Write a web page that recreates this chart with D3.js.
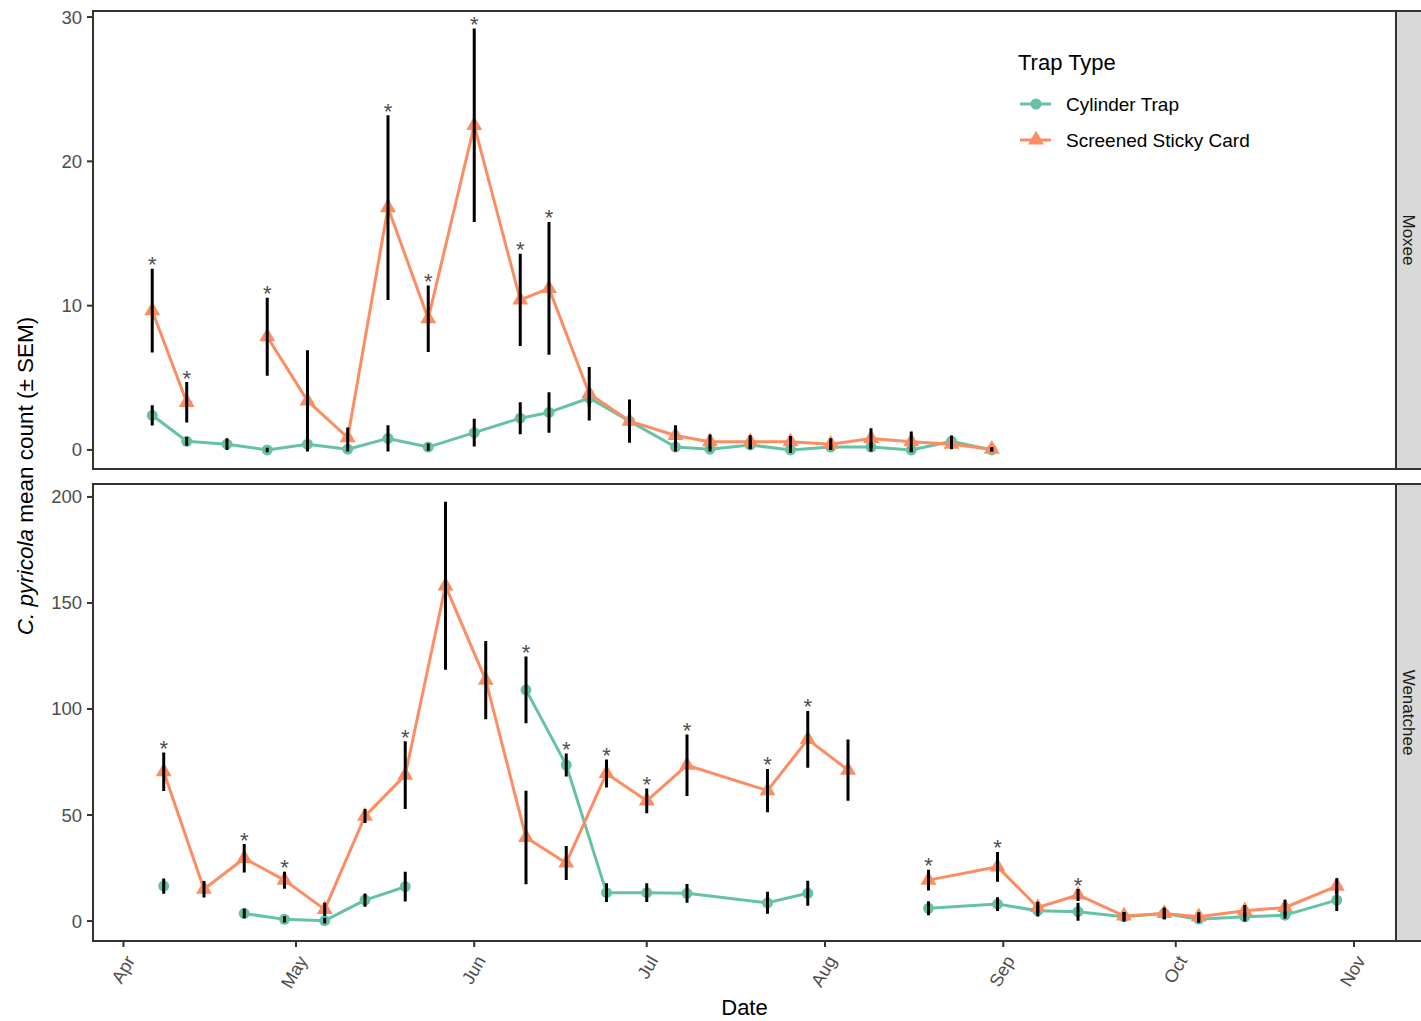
<!DOCTYPE html>
<html>
<head>
<meta charset="utf-8">
<script src="https://cdn.jsdelivr.net/npm/d3@7"></script>
<style>
body { margin: 0; background: #fff; }
text { font-family: "Liberation Sans", Arial, sans-serif; }
</style>
</head>
<body>
<svg id="chart" width="1421" height="1021"></svg>
<script>
// Moxee site
var moxeeDates = ["2017-04-06", "2017-04-12", "2017-04-19", "2017-04-26", "2017-05-03", "2017-05-10",
    "2017-05-17", "2017-05-24", "2017-06-01", "2017-06-09", "2017-06-14", "2017-06-21", "2017-06-28",
    "2017-07-06", "2017-07-12", "2017-07-19", "2017-07-26", "2017-08-02", "2017-08-09", "2017-08-16",
    "2017-08-23", "2017-08-30"]
var moxeeCyl = [2.4, 0.6, 0.4, 0.0, 0.4, 0.05, 0.8, 0.2, 1.2, 2.2, 2.6, 3.6, 2.0, 0.2, 0.05, 0.35, 0.0, 0.2, 0.2, 0.0, 0.6, 0.0]
var moxeeCylSem = [0.6, 0.2, 0.3, 0.05, 0.3, 0.05, 0.8, 0.15, 0.85, 1.0, 1.3, 0.5, 0.6, 0.2, 0.05, 0.2, 0.1, 0.1, 0.2, 0.05, 0.3, 0.0]
var moxeeSticky = [9.65, 3.3, null, 7.85, 3.4, 0.85, 16.8, 9.1, 22.5, 10.4, 11.2, 3.9, 2.0, 1.0, 0.57, 0.57, 0.57, 0.4, 0.8, 0.57, 0.4, 0.05]
var moxeeStickySem = [2.8, 1.3, null, 2.6, 3.4, 0.6, 6.3, 2.2, 6.6, 3.1, 4.5, 1.75, 1.4, 0.6, 0.4, 0.35, 0.3, 0.3, 0.6, 0.6, 0.25, 0.05]
var moxeeSig = [1, 1, 0, 1, 0, 0, 1, 1, 1, 1, 1, 0, 0, 0, 0, 0, 0, 0, 0, 0, 0, 0]

// Wenatchee site
var wenDates = ["2017-04-08", "2017-04-15", "2017-04-22", "2017-04-29", "2017-05-06", "2017-05-13",
    "2017-05-20", "2017-05-27", "2017-06-03", "2017-06-10", "2017-06-17", "2017-06-24", "2017-07-01",
    "2017-07-08", "2017-07-22", "2017-07-29", "2017-08-05", "2017-08-12", "2017-08-19", "2017-08-31",
    "2017-09-07", "2017-09-14", "2017-09-22", "2017-09-29", "2017-10-05", "2017-10-13", "2017-10-20",
    "2017-10-29"]
var wenCyl = [16.5, null, 3.6, 0.8, 0.2, 9.9, 16.2, null, null, 109, 73.6, 13.4, 13.4, 13.1, 8.6, 13.1, null, null,
    6.0, 8.0, 4.9, 4.4, 2.0, 3.6, 0.9, 2.0, 2.8, 9.9]
var wenCylSem = [2.9, null, 1.6, 0.8, 0.6, 2.4, 6.3, null, null, 15.0, 4.7, 3.7, 3.7, 3.7, 4.5, 5.2, null, null,
    2.6, 2.5, 2.0, 3.5, 1.5, 2.0, 1.0, 1.5, 1.0, 4.5]
var wenSticky = [70.4, 15.0, 29.6, 19.3, 5.5, 49.5, 68.8, 158.1, 113.6, 39.4, 27.4, 69.6, 56.7, 73.5, 61.5, 85.7, 71.2, null,
    19.3, 25.6, 6.4, 12.3, 2.4, 3.6, 2.0, 4.9, 6.4, 16.5]
var wenStickySem = [8.4, 3.2, 6.0, 3.3, 2.4, 2.6, 15.3, 38.9, 17.7, 21.3, 7.3, 5.9, 5.1, 13.8, 9.5, 12.7, 13.7, null,
    4.2, 6.3, 2.0, 2.1, 1.2, 2.0, 1.5, 2.0, 3.0, 3.0]
var wenSig = [1, 0, 1, 1, 0, 0, 1, 0, 0, 1, 1, 1, 1, 1, 1, 1, 0, 0, 1, 1, 0, 1, 0, 0, 0, 0, 0, 0]

var trapTypes = ["Cylinder Trap", "Screened Sticky Card"]
var trapColors = ["#66c2a5", "#fc8d62"]
var moxeeTicks = [0, 10, 20, 30]
var wenTicks = [0, 50, 100, 150, 200]
var monthTicks = ["2017-04-01", "2017-05-01", "2017-06-01", "2017-07-01", "2017-08-01", "2017-09-01", "2017-10-01", "2017-11-01"]

var parse = d3.timeParse("%Y-%m-%d")
var svg = d3.select("#chart")

var left = 93, right = 1396, stripW = 30

// shared x scale, expanded 5% each side like ggplot
var allDates = moxeeDates.concat(wenDates).map(parse)
var ext = d3.extent(allDates)
var span = ext[1] - ext[0]
var x = d3.scaleTime()
    .domain([new Date(+ext[0] - span * 0.05), new Date(+ext[1] + span * 0.05)])
    .range([left, right])

function drawPanel(top, bottom, yDomain, ticks, dates, series, sig, label) {
    var y = d3.scaleLinear().domain(yDomain).range([bottom, top])
    var g = svg.append("g")

    // y axis ticks + labels
    ticks.forEach(function (t) {
        g.append("line").attr("x1", left - 6).attr("x2", left).attr("y1", y(t)).attr("y2", y(t))
            .attr("stroke", "#333").attr("stroke-width", 2)
        g.append("text").attr("x", left - 11).attr("y", y(t)).attr("dy", "0.35em")
            .attr("text-anchor", "end").attr("font-size", 18.5).attr("fill", "#4d4d4d").text(t)
    })

    var clip = "clip-" + label
    svg.append("clipPath").attr("id", clip).append("rect")
        .attr("x", left).attr("y", top).attr("width", right - left).attr("height", bottom - top)
    var plot = g.append("g").attr("clip-path", "url(#" + clip + ")")

    var rows = series.map(function (s, k) {
        return dates.map(function (d, i) {
            return { date: parse(d), v: s.mean[i], sem: s.sem[i], k: k }
        })
    })

    var line = d3.line()
        .defined(function (d) { return d.v != null })
        .x(function (d) { return x(d.date) })
        .y(function (d) { return y(d.v) })

    rows.forEach(function (r, k) {
        plot.append("path").datum(r).attr("d", line)
            .attr("fill", "none").attr("stroke", trapColors[k]).attr("stroke-width", 3)
            .attr("stroke-linejoin", "round")
    })

    // points
    plot.selectAll(".cyl").data(rows[0].filter(function (d) { return d.v != null }))
        .enter().append("circle")
        .attr("cx", function (d) { return x(d.date) })
        .attr("cy", function (d) { return y(d.v) })
        .attr("r", 5.5).attr("fill", trapColors[0])
    var tri = d3.symbol().type(d3.symbolTriangle).size(110)
    plot.selectAll(".stk").data(rows[1].filter(function (d) { return d.v != null }))
        .enter().append("path")
        .attr("d", tri)
        .attr("transform", function (d) { return "translate(" + x(d.date) + "," + y(d.v) + ")" })
        .attr("fill", trapColors[1])

    // error bars
    rows.forEach(function (r) {
        r.filter(function (d) { return d.v != null }).forEach(function (d) {
            var cx = x(d.date), y1 = y(d.v + d.sem), y2 = y(d.v - d.sem)
            plot.append("path")
                .attr("d", "M" + (cx - 1.5) + "," + y1 + "H" + (cx + 1.5) + "M" + cx + "," + y1 + "V" + y2 +
                    "M" + (cx - 1.5) + "," + y2 + "H" + (cx + 1.5))
                .attr("stroke", "#000").attr("stroke-width", 3).attr("fill", "none")
        })
    })

    // significance stars above the highest bar
    dates.forEach(function (d, i) {
        if (!sig[i]) return
        var hi = d3.max(series, function (s) { return s.mean[i] == null ? null : s.mean[i] + s.sem[i] })
        g.append("text").attr("x", x(parse(d))).attr("y", y(hi) + 2)
            .attr("text-anchor", "middle").attr("font-size", 22).attr("fill", "#4d4d4d").text("*")
    })

    // panel border
    g.append("rect").attr("x", left).attr("y", top).attr("width", right - left).attr("height", bottom - top)
        .attr("fill", "none").attr("stroke", "#333").attr("stroke-width", 2)

    // facet strip
    g.append("rect").attr("x", right).attr("y", top).attr("width", stripW).attr("height", bottom - top)
        .attr("fill", "#d9d9d9").attr("stroke", "#333").attr("stroke-width", 2)
    g.append("text")
        .attr("transform", "translate(" + (right + 13) + "," + ((top + bottom) / 2) + ") rotate(90)")
        .attr("text-anchor", "middle").attr("dy", "0.35em")
        .attr("font-size", 17).attr("fill", "#1a1a1a").text(label)
}

drawPanel(11, 469, [-1.32, 30.42], moxeeTicks, moxeeDates,
    [{ mean: moxeeCyl, sem: moxeeCylSem }, { mean: moxeeSticky, sem: moxeeStickySem }], moxeeSig, "Moxee")
drawPanel(484, 941, [-9.4, 206.1], wenTicks, wenDates,
    [{ mean: wenCyl, sem: wenCylSem }, { mean: wenSticky, sem: wenStickySem }], wenSig, "Wenatchee")

// x axis
var xa = svg.append("g")
monthTicks.map(parse).forEach(function (m) {
    xa.append("line").attr("x1", x(m)).attr("x2", x(m)).attr("y1", 941).attr("y2", 947)
        .attr("stroke", "#333").attr("stroke-width", 2)
    xa.append("text")
        .attr("transform", "translate(" + (x(m) + 1) + ",954) rotate(-60)")
        .attr("text-anchor", "end").attr("dy", "0.71em")
        .attr("font-size", 18).attr("fill", "#4d4d4d").text(d3.timeFormat("%b")(m))
})

svg.append("text").attr("x", (left + right) / 2).attr("y", 1015)
    .attr("text-anchor", "middle").attr("font-size", 22).attr("fill", "#000").text("Date")

var yt = svg.append("text").attr("transform", "translate(33,476) rotate(-90)")
    .attr("text-anchor", "middle").attr("font-size", 22.5).attr("fill", "#000")
yt.append("tspan").attr("font-style", "italic").text("C. pyricola")
yt.append("tspan").text(" mean count (\u00b1 SEM)")

// legend
var lg = svg.append("g").attr("transform", "translate(1018,0)")
lg.append("text").attr("x", 0).attr("y", 70).attr("font-size", 22).attr("fill", "#000").text("Trap Type")
trapTypes.forEach(function (t, k) {
    var ly = 104 + k * 36
    lg.append("line").attr("x1", 2).attr("x2", 33).attr("y1", ly).attr("y2", ly)
        .attr("stroke", trapColors[k]).attr("stroke-width", 3)
    if (k == 0) {
        lg.append("circle").attr("cx", 18).attr("cy", ly).attr("r", 5.5).attr("fill", trapColors[k])
    } else {
        lg.append("path").attr("d", d3.symbol().type(d3.symbolTriangle).size(110))
            .attr("transform", "translate(18," + ly + ")").attr("fill", trapColors[k])
    }
    lg.append("text").attr("x", 48).attr("y", ly).attr("dy", "0.35em")
        .attr("font-size", 19).attr("fill", "#000").text(t)
})
</script>
</body>
</html>
